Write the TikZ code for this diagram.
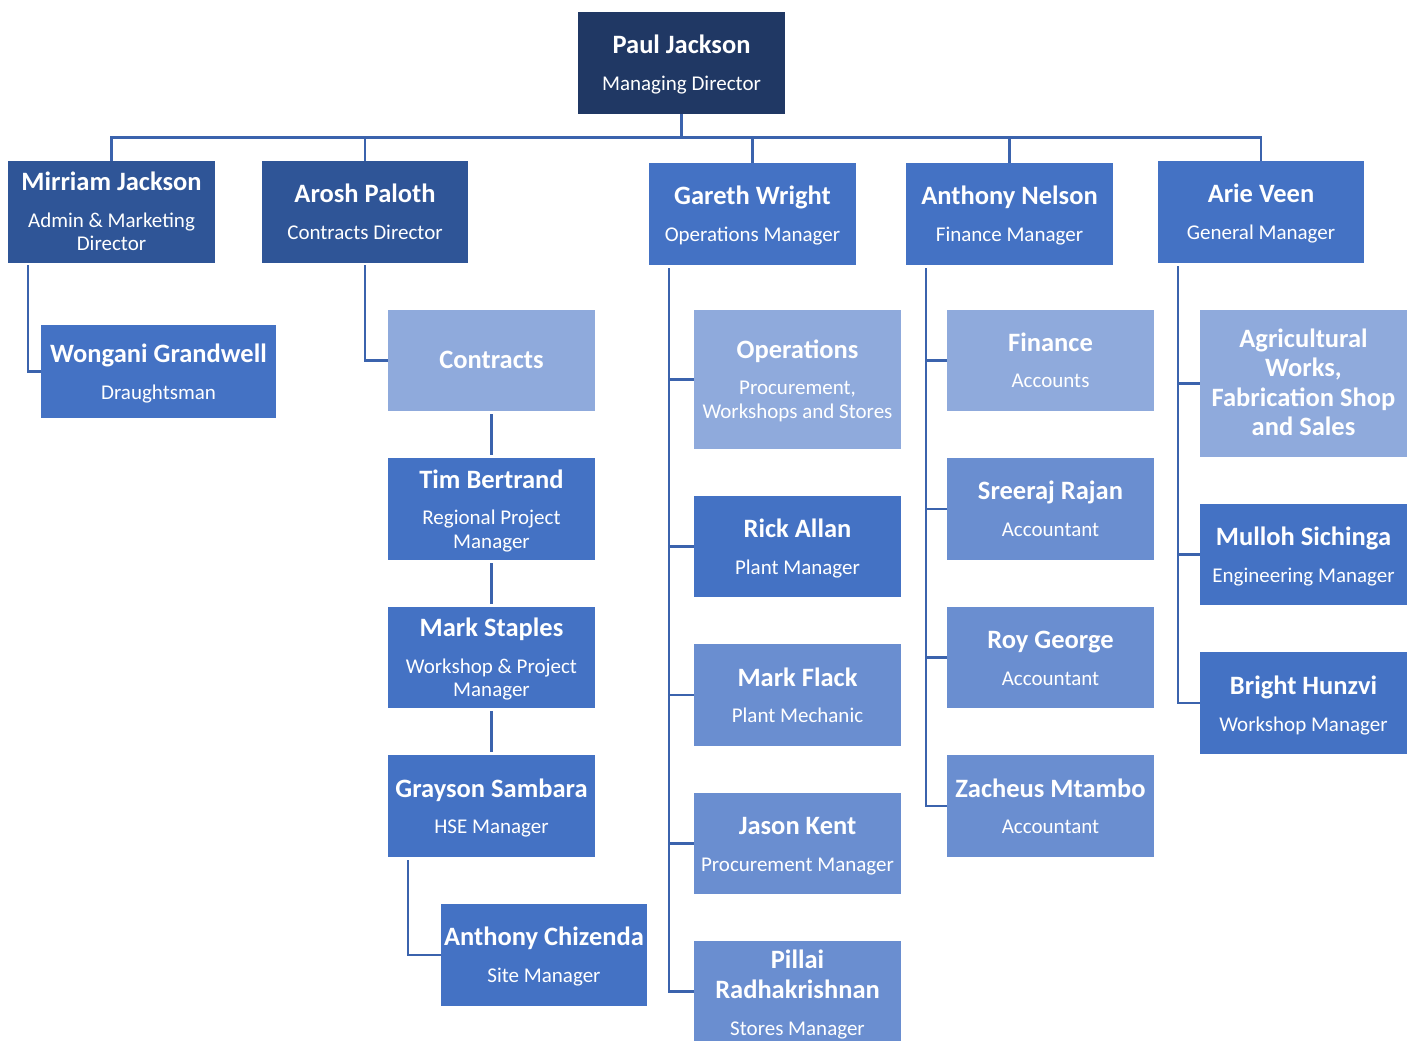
\documentclass[tikz,border=0pt]{standalone}
\usepackage{fontspec}
\setmainfont{Carlito}
\definecolor{cnavy}{HTML}{203864}
\definecolor{cdark}{HTML}{2F5597}
\definecolor{cmid}{HTML}{4472C4}
\definecolor{clight}{HTML}{8FAADC}
\definecolor{csoft}{HTML}{6A8ED0}
\definecolor{cline}{HTML}{3B63AD}
\tikzset{
  obox/.style={rectangle, inner sep=0pt, draw=none},
  nmst/.style={text=white, font=\fontsize{26.5}{30}\selectfont\bfseries, inner sep=0pt, text height=0.75em, text depth=0.15em, anchor=center, yshift=-5pt},
  ttlst/.style={text=white, font=\fontsize{21}{24}\selectfont, inner sep=0pt, text height=0.75em, text depth=0.15em, anchor=center, yshift=-4pt},
  conn/.style={draw=cline, line width=2.6pt},
}
\newcommand\ob[6]{\node[obox,fill=#2,minimum width={(#5-#3)*1pt},minimum height={(#6-#4)*1pt}] (#1) at ({(#3+#5)/2},{(#4+#6)/2}) {};}
\newcommand\nm[3]{\node[nmst] at (#1,#2) {#3};}
\newcommand\ttl[3]{\node[ttlst] at (#1,#2) {#3};}
\begin{document}
\begin{tikzpicture}[x=1pt,y=-1pt]
\useasboundingbox (0,0) rectangle (1416,1041);
\clip (0,0) rectangle (1416,1041);
% boxes
\ob{paul}{cnavy}{578}{12}{785}{114}
\ob{mirriam}{cdark}{8}{161}{215}{263}
\ob{arosh}{cdark}{262}{161}{468}{263}
\ob{gareth}{cmid}{649}{163}{856}{265}
\ob{nelson}{cmid}{906}{163}{1113}{265}
\ob{arie}{cmid}{1158}{161}{1364}{263}
\ob{wongani}{cmid}{41}{325}{276}{418}
\ob{contracts}{clight}{388}{310}{595}{411}
\ob{tim}{cmid}{388}{458}{595}{560}
\ob{staples}{cmid}{388}{607}{595}{708}
\ob{grayson}{cmid}{388}{755}{595}{857}
\ob{chizenda}{cmid}{441}{904}{647}{1006}
\ob{ops}{clight}{694}{310}{901}{449}
\ob{rick}{cmid}{694}{496}{901}{597}
\ob{flack}{csoft}{694}{644}{901}{746}
\ob{jason}{csoft}{694}{793}{901}{894}
\ob{pillai}{csoft}{694}{941}{901}{1042}
\ob{finance}{clight}{947}{310}{1154}{411}
\ob{sreeraj}{csoft}{947}{458}{1154}{560}
\ob{roy}{csoft}{947}{607}{1154}{708}
\ob{zacheus}{csoft}{947}{755}{1154}{857}
\ob{agri}{clight}{1200}{310}{1407}{457}
\ob{mulloh}{cmid}{1200}{504}{1407}{605}
\ob{bright}{cmid}{1200}{652}{1407}{754}
% connectors from the top
\coordinate (bar) at ([yshift=-23pt]paul.south);
\draw[conn] (paul.south) -- (bar);
\draw[conn] (bar) -| (mirriam.north);
\draw[conn] (bar) -| (arosh.north);
\draw[conn] (bar) -| (gareth.north);
\draw[conn] (bar) -| (nelson.north);
\draw[conn] (bar) -| (arie.north);
% left groups
\draw[conn] ([xshift=20pt,yshift=-2pt]mirriam.south west) |- (wongani.west);
\draw[conn] ([yshift=-2pt]arosh.south) |- (contracts.west);
\draw[conn,shorten <=3pt,shorten >=3pt] (contracts.south) -- (tim.north);
\draw[conn,shorten <=3pt,shorten >=3pt] (tim.south) -- (staples.north);
\draw[conn,shorten <=3pt,shorten >=3pt] (staples.south) -- (grayson.north);
\draw[conn] ([xshift=20pt,yshift=-3pt]grayson.south west) |- (chizenda.west);
% Gareth trunk
\coordinate (gt) at ([xshift=20pt,yshift=-3pt]gareth.south west);
\draw[conn] (gt) |- (pillai.west);
\foreach \n in {ops,rick,flack,jason} \draw[conn] (\n.west) -- (\n.west -| gt);
% Nelson trunk
\coordinate (nt) at ([xshift=20pt,yshift=-3pt]nelson.south west);
\draw[conn] (nt) |- (zacheus.west);
\foreach \n in {finance,sreeraj,roy} \draw[conn] (\n.west) -- (\n.west -| nt);
% Arie trunk
\coordinate (at) at ([xshift=20pt,yshift=-3pt]arie.south west);
\draw[conn] (at) |- (bright.west);
\foreach \n in {agri,mulloh} \draw[conn] (\n.west) -- (\n.west -| at);
% texts
\nm{681.5}{45}{Paul Jackson} \ttl{681.5}{83}{Managing Director}
\nm{111.5}{182}{Mirriam Jackson} \ttl{111.5}{220}{Admin \& Marketing} \ttl{111.5}{243}{Director}
\nm{365}{194}{Arosh Paloth} \ttl{365}{232}{Contracts Director}
\nm{752.5}{196}{Gareth Wright} \ttl{752.5}{234}{Operations Manager}
\nm{1009.5}{196}{Anthony Nelson} \ttl{1009.5}{234}{Finance Manager}
\nm{1261}{194}{Arie Veen} \ttl{1261}{232}{General Manager}
\nm{158.5}{354}{Wongani Grandwell} \ttl{158.5}{392}{Draughtsman}
\nm{491.5}{360}{Contracts}
\nm{491.5}{480}{Tim Bertrand} \ttl{491.5}{517}{Regional Project} \ttl{491.5}{541}{Manager}
\nm{491.5}{628}{Mark Staples} \ttl{491.5}{666}{Workshop \& Project} \ttl{491.5}{689}{Manager}
\nm{491.5}{789}{Grayson Sambara} \ttl{491.5}{826}{HSE Manager}
\nm{544}{937}{Anthony Chizenda} \ttl{544}{975}{Site Manager}
\nm{797.5}{350}{Operations} \ttl{797.5}{387}{Procurement,} \ttl{797.5}{411}{Workshops and Stores}
\nm{797.5}{529}{Rick Allan} \ttl{797.5}{567}{Plant Manager}
\nm{797.5}{678}{Mark Flack} \ttl{797.5}{715}{Plant Mechanic}
\nm{797.5}{826}{Jason Kent} \ttl{797.5}{864}{Procurement Manager}
\nm{797.5}{960}{Pillai} \nm{797.5}{990}{Radhakrishnan} \ttl{797.5}{1028}{Stores Manager}
\nm{1050.5}{343}{Finance} \ttl{1050.5}{380}{Accounts}
\nm{1050.5}{491}{Sreeraj Rajan} \ttl{1050.5}{529}{Accountant}
\nm{1050.5}{640}{Roy George} \ttl{1050.5}{678}{Accountant}
\nm{1050.5}{789}{Zacheus Mtambo} \ttl{1050.5}{826}{Accountant}
\nm{1303.5}{339}{Agricultural} \nm{1303.5}{368}{Works,} \nm{1303.5}{398}{Fabrication Shop} \nm{1303.5}{427}{and Sales}
\nm{1303.5}{537}{Mulloh Sichinga} \ttl{1303.5}{575}{Engineering Manager}
\nm{1303.5}{686}{Bright Hunzvi} \ttl{1303.5}{724}{Workshop Manager}
\end{tikzpicture}
\end{document}
